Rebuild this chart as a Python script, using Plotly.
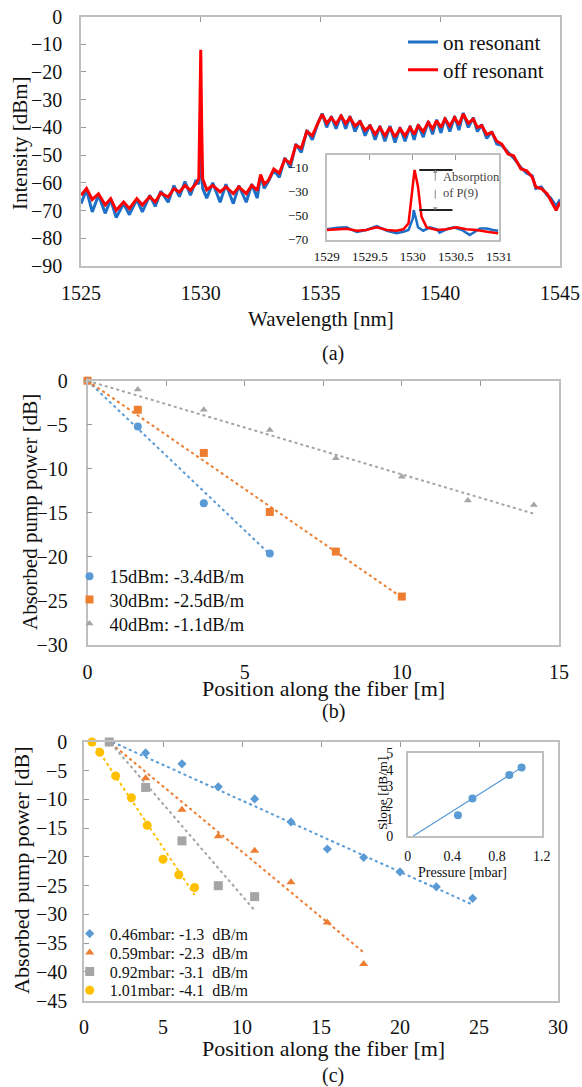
import plotly.graph_objects as go

W, H = 582, 1087
FONT = "Liberation Serif, Times New Roman, serif"
FRAME = "#BFBFBF"

# ---------------- data : panel (a) spectrum ----------------
wavelength = [
    1525.00, 1525.23, 1525.47, 1525.73, 1526.01, 1526.24, 1526.47, 1526.78, 1527.02, 1527.33,
    1527.56, 1527.87, 1528.10, 1528.33, 1528.64, 1528.88, 1529.11, 1529.34, 1529.57, 1529.80,
    1529.92, 1529.96, 1530.00, 1530.04, 1530.08, 1530.25, 1530.50, 1530.81, 1531.05, 1531.36,
    1531.59, 1531.90, 1532.13, 1532.36, 1532.50, 1532.65, 1532.82, 1533.05, 1533.28, 1533.51,
    1533.74, 1533.97, 1534.20, 1534.43, 1534.66, 1534.89, 1535.07, 1535.26, 1535.45, 1535.65,
    1535.86, 1536.05, 1536.23, 1536.44, 1536.65, 1536.86, 1537.07, 1537.28, 1537.48, 1537.69,
    1537.90, 1538.11, 1538.32, 1538.53, 1538.74, 1538.91, 1539.08, 1539.29, 1539.50, 1539.68,
    1539.85, 1540.03, 1540.20, 1540.40, 1540.60, 1540.78, 1540.96, 1541.17, 1541.38, 1541.55,
    1541.73, 1541.94, 1542.15, 1542.36, 1542.57, 1542.83, 1543.06, 1543.37, 1543.60, 1543.84,
    1543.99, 1544.22, 1544.46, 1544.61, 1544.84, 1545.00]
off_resonant = [
    -64.5, -62.0, -66.0, -64.0, -68.0, -65.7, -69.9, -66.9, -69.3, -65.7,
    -68.0, -65.0, -66.9, -63.7, -65.1, -62.1, -63.3, -60.9, -62.7, -60.3,
    -58.5, -40.0, -12.0, -40.0, -58.5, -62.5, -60.9, -63.3, -61.5, -63.9,
    -61.5, -63.9, -60.9, -62.7, -57.0, -60.5, -59.2, -55.0, -56.5, -51.5,
    -53.0, -46.5, -47.5, -41.5, -43.0, -38.5, -35.3, -38.5, -36.5, -38.8,
    -35.9, -38.6, -36.5, -39.5, -38.0, -41.0, -39.5, -42.5, -40.0, -43.0,
    -40.0, -43.5, -40.5, -43.0, -40.0, -42.5, -39.4, -41.5, -38.2, -40.5,
    -37.6, -40.0, -37.0, -39.5, -36.5, -39.0, -35.2, -38.5, -37.0, -40.0,
    -39.4, -42.5, -41.8, -45.0, -46.0, -49.6, -50.2, -55.0, -55.6, -57.9,
    -61.5, -62.1, -63.9, -66.3, -69.9, -67.0]
on_resonant = [
    -67.5, -62.5, -70.5, -64.5, -71.0, -66.0, -72.5, -67.5, -71.5, -66.0,
    -70.5, -64.5, -68.5, -63.0, -67.0, -61.0, -65.0, -59.5, -64.5, -59.0,
    -60.5, -55.0, -45.0, -55.0, -62.0, -65.5, -60.0, -67.0, -60.5, -67.5,
    -61.0, -67.0, -60.5, -65.5, -57.5, -62.0, -59.5, -55.5, -58.0, -51.0,
    -54.5, -46.0, -49.0, -41.0, -44.5, -38.5, -35.0, -40.0, -36.0, -40.5,
    -35.5, -40.5, -36.0, -41.5, -37.5, -43.0, -39.0, -44.5, -39.5, -45.0,
    -39.5, -45.5, -40.0, -45.0, -39.5, -44.5, -39.0, -43.5, -37.8, -42.5,
    -37.2, -42.0, -36.5, -41.5, -36.0, -41.0, -34.8, -40.0, -36.5, -41.5,
    -39.0, -44.0, -41.5, -46.0, -46.5, -49.0, -51.0, -54.5, -56.5, -57.5,
    -62.0, -61.5, -64.5, -65.5, -68.5, -66.0]

# inset of (a)
inset_wl_off = [1529.00, 1529.12, 1529.23, 1529.35, 1529.46, 1529.58, 1529.70, 1529.81, 1529.89,
                1529.95, 1529.97, 1529.99, 1530.02, 1530.06, 1530.10, 1530.16, 1530.28, 1530.39,
                1530.51, 1530.62, 1530.74, 1530.86, 1530.99]
inset_off = [-62.1, -61.5, -61.0, -62.7, -62.1, -59.9, -62.1, -62.7, -61.5,
             -56.5, -45.0, -31.6, -12.2, -26.1, -51.0, -59.9, -62.1, -61.5,
             -59.9, -61.5, -62.1, -63.5, -64.8]
inset_wl_on = [1529.00, 1529.12, 1529.23, 1529.35, 1529.46, 1529.58, 1529.70, 1529.81, 1529.89,
               1529.95, 1530.00, 1530.01, 1530.04, 1530.06, 1530.12, 1530.20, 1530.28, 1530.31,
               1530.39, 1530.47, 1530.57, 1530.66, 1530.78, 1530.86, 1530.93, 1530.99]
inset_on = [-61.5, -60.2, -59.9, -63.8, -62.1, -58.8, -62.7, -64.8, -63.5,
            -62.1, -52.4, -45.5, -53.8, -59.9, -62.7, -59.9, -61.5, -64.3,
            -61.5, -59.9, -62.1, -66.3, -60.9, -60.9, -62.1, -62.7]
absorption_bar_x = [1530.075, 1530.46]
absorption_arrow_x = 1530.26
absorption_text_pos = (1530.33, -25.0)

# ---------------- data : panel (b) ----------------
b_x15 = [0, 1.6, 3.7, 5.8]
b_y15 = [0, -5.2, -13.9, -19.6]
b_x30 = [0, 1.6, 3.7, 5.8, 7.9, 10.0]
b_y30 = [0, -3.3, -8.2, -14.9, -19.4, -24.5]
b_x40 = [0, 1.6, 3.7, 5.8, 7.9, 10.0, 12.1, 14.2]
b_y40 = [0, -1.0, -3.3, -5.6, -8.8, -10.9, -13.6, -14.1]
b_fit_x = [[0, 5.8], [0, 10.0], [0, 14.2]]
b_fit_y = [[0, -19.7], [0, -24.6], [0, -15.1]]
b_names = ["15dBm: -3.4dB/m", "30dBm: -2.5dB/m", "40dBm: -1.1dB/m"]

# ---------------- data : panel (c) ----------------
c_x046 = [1.6, 3.9, 6.2, 8.5, 10.8, 13.1, 15.4, 17.7, 20.0, 22.3, 24.6]
c_y046 = [0, -1.9, -3.8, -7.8, -9.9, -13.9, -18.6, -20.1, -22.6, -25.2, -27.2]
c_x059 = [1.6, 3.9, 6.2, 8.5, 10.8, 13.1, 15.4, 17.7]
c_y059 = [0, -6.3, -11.8, -16.4, -18.9, -24.4, -31.4, -38.6]
c_x092 = [1.6, 3.9, 6.2, 8.5, 10.8]
c_y092 = [0, -7.9, -17.2, -25.0, -26.9]
c_x101 = [0.5, 1.0, 2.0, 3.0, 4.0, 5.0, 6.0, 7.0]
c_y101 = [0, -1.8, -5.9, -9.7, -14.5, -20.4, -23.1, -25.3]
c_fit_x = [[1.8, 24.6], [1.7, 17.7], [1.7, 10.8], [0.6, 7.0]]
c_fit_y = [[0, -28.3], [-0.2, -36.6], [-0.2, -29.3], [-0.2, -26.6]]
c_names = ["0.46mbar: -1.3\u00a0 dB/m", "0.59mbar: -2.3\u00a0 dB/m",
           "0.92mbar: -3.1\u00a0 dB/m", "1.01mbar: -4.1\u00a0 dB/m"]
# inset of (c)
pressure = [0.45, 0.58, 0.91, 1.02]
slope = [1.25, 2.26, 3.67, 4.13]
slope_fit_x = [0.05, 1.03]
slope_fit_y = [0.0, 4.17]

# ---------------- styles ----------------
BLUE_A, RED_A = "#1E6FC8", "#FF0000"
C_BLUE, C_ORANGE, C_GRAY, C_YELLOW = "#5B9BD5", "#ED7D31", "#A5A5A5", "#FFC000"


def fx(p):
    return p / W


def fy(p):
    return 1 - p / H


fig = go.Figure()
legends = {}


def legend_box(name, left_px, top_px, size):
    legends[name] = dict(x=fx(left_px), y=fy(top_px), xanchor="left", yanchor="top",
                         bgcolor="rgba(0,0,0,0)", borderwidth=0, itemwidth=30, tracegroupgap=0,
                         font=dict(family=FONT, size=size, color="#111111"))


# panel (a)
legend_box("legend", 403.0, 21.8, 21)
legend_box("legend2", 403.0, 49.5, 21)
fig.add_trace(go.Scatter(x=wavelength, y=on_resonant, mode="lines", name="on resonant",
                         line=dict(color=BLUE_A, width=3), xaxis="x", yaxis="y", legend="legend"))
fig.add_trace(go.Scatter(x=wavelength, y=off_resonant, mode="lines", name="off resonant",
                         line=dict(color=RED_A, width=3), xaxis="x", yaxis="y", legend="legend2"))
fig.add_trace(go.Scatter(x=[], y=[], xaxis="x2", yaxis="y", showlegend=False))
# inset (a)
fig.add_trace(go.Scatter(x=inset_wl_on, y=inset_on, mode="lines", line=dict(color=BLUE_A, width=2.5),
                         xaxis="x3", yaxis="y3", showlegend=False))
fig.add_trace(go.Scatter(x=inset_wl_off, y=inset_off, mode="lines", line=dict(color=RED_A, width=2.5),
                         xaxis="x3", yaxis="y3", showlegend=False))
fig.add_trace(go.Scatter(x=[], y=[], xaxis="x4", yaxis="y3", showlegend=False))
top_level = max(inset_off)
bot_level = max(inset_on)
for lvl in (top_level, bot_level):
    fig.add_trace(go.Scatter(x=absorption_bar_x, y=[lvl, lvl], mode="lines",
                             line=dict(color="#222222", width=2), xaxis="x3", yaxis="y3",
                             showlegend=False))
fig.add_trace(go.Scatter(x=[absorption_arrow_x, absorption_arrow_x], y=[top_level - 1.5, bot_level + 1.5],
                         mode="lines+markers", line=dict(color="#8C8C8C", width=1, dash="dash"),
                         marker=dict(symbol=["triangle-up", "triangle-down"], size=4, color="#8C8C8C"),
                         xaxis="x3", yaxis="y3", showlegend=False))

# panel (b)
b_sets = [(b_x15, b_y15, C_BLUE, "circle", 8), (b_x30, b_y30, C_ORANGE, "square", 8),
          (b_x40, b_y40, C_GRAY, "triangle-up", 7)]
b_leg_tops = [557.7, 581.0, 605.0]
for (xs, ys, col, sym, sz), fxs, fys in zip(b_sets, b_fit_x, b_fit_y):
    fig.add_trace(go.Scatter(x=fxs, y=fys, mode="lines", line=dict(color=col, width=2, dash="dot"),
                             xaxis="x5", yaxis="y5", showlegend=False))
for i, ((xs, ys, col, sym, sz), nm) in enumerate(zip(b_sets, b_names)):
    lg = "legend%d" % (3 + i)
    legend_box(lg, 69.5, b_leg_tops[i], 18.5)
    fig.add_trace(go.Scatter(x=xs, y=ys, mode="markers", name=nm, cliponaxis=False,
                             marker=dict(color=col, symbol=sym, size=sz),
                             xaxis="x5", yaxis="y5", legend=lg))
fig.add_trace(go.Scatter(x=[], y=[], xaxis="x6", yaxis="y5", showlegend=False))

# panel (c)
c_sets = [(c_x046, c_y046, C_BLUE, "diamond", 7), (c_x059, c_y059, C_ORANGE, "triangle-up", 8),
          (c_x092, c_y092, C_GRAY, "square", 9), (c_x101, c_y101, C_YELLOW, "circle", 9)]
c_leg_tops = [916.7, 935.7, 954.7, 973.3]
for (xs, ys, col, sym, sz), fxs, fys in zip(c_sets, c_fit_x, c_fit_y):
    fig.add_trace(go.Scatter(x=fxs, y=fys, mode="lines", line=dict(color=col, width=2, dash="dot"),
                             xaxis="x7", yaxis="y7", showlegend=False))
for i, ((xs, ys, col, sym, sz), nm) in enumerate(zip(c_sets, c_names)):
    lg = "legend%d" % (6 + i)
    legend_box(lg, 69.7, c_leg_tops[i], 16)
    fig.add_trace(go.Scatter(x=xs, y=ys, mode="markers", name=nm, cliponaxis=False,
                             marker=dict(color=col, symbol=sym, size=sz),
                             xaxis="x7", yaxis="y7", legend=lg))
fig.add_trace(go.Scatter(x=[], y=[], xaxis="x8", yaxis="y7", showlegend=False))
# inset (c)
fig.add_trace(go.Scatter(x=slope_fit_x, y=slope_fit_y, mode="lines", line=dict(color=C_BLUE, width=1.2),
                         xaxis="x9", yaxis="y9", showlegend=False))
fig.add_trace(go.Scatter(x=pressure, y=slope, mode="markers", cliponaxis=False,
                         marker=dict(color=C_BLUE, size=8), xaxis="x9", yaxis="y9", showlegend=False))


def main_x(domain, anchor, rng, vals, size=20, standoff=8, text=None):
    d = dict(domain=domain, anchor=anchor, range=rng, tickvals=vals, ticks="", showgrid=False,
             zeroline=False, showline=True, mirror=True, linecolor=FRAME, linewidth=1.5,
             automargin=False,
             tickfont=dict(family=FONT, size=size, color="#111111"), ticklabelstandoff=standoff)
    if text is not None:
        d["ticktext"] = text
    return d


def top_x(over, anchor, rng, vals):
    return dict(overlaying=over, anchor=anchor, side="top", range=rng, tickvals=vals, ticks="inside",
                ticklen=5, tickwidth=1.3, tickcolor="#999999", showticklabels=False, showgrid=False,
                zeroline=False, showline=False, automargin=False)


def main_y(domain, anchor, rng, vals, size=20, standoff=14, ticks="inside"):
    return dict(domain=domain, anchor=anchor, range=rng, tickvals=vals, ticks=ticks, ticklen=5,
                tickwidth=1.3, tickcolor="#999999", showgrid=False, zeroline=False, showline=True,
                mirror=True, linecolor=FRAME, linewidth=1.5, automargin=False,
                tickfont=dict(family=FONT, size=size, color="#111111"), ticklabelstandoff=standoff)


fig.update_layout(
    width=W, height=H, margin=dict(l=0, r=0, t=0, b=0, autoexpand=False),
    paper_bgcolor="white", plot_bgcolor="white",
    font=dict(family=FONT, color="#111111"),
    xaxis=main_x([fx(81), fx(560)], "y", [1525, 1545], [1525, 1530, 1535, 1540, 1545], 20, 8),
    xaxis2=top_x("x", "y", [1525, 1545], [1530, 1535, 1540]),
    yaxis=main_y([fy(266), fy(16.5)], "x", [-90, 0], list(range(-90, 1, 10)), 20, 13),
    xaxis3=main_x([fx(326.7), fx(499)], "y3", [1529, 1531], [1529, 1529.5, 1530, 1530.5, 1531], 13, 4,
                  ["1529", "1529.5", "1530", "1530.5", "1531"]),
    xaxis4=top_x("x3", "y3", [1529, 1531], [1529.5, 1530, 1530.5]),
    yaxis3=main_y([fy(239.5), fy(155.3)], "x3", [-70, 0], [-70, -50, -30, -10], 13, 14, ticks=""),
    xaxis5=main_x([fx(87.5), fx(559)], "y5", [0, 15], [0, 5, 10, 15], 20, 8),
    xaxis6=top_x("x5", "y5", [0, 15], [2.5, 5, 7.5, 10, 12.5]),
    yaxis5=main_y([fy(645), fy(380.7)], "x5", [-30, 0], list(range(-30, 1, 5)), 20, 14),
    xaxis7=main_x([fx(84), fx(558)], "y7", [0, 30], list(range(0, 31, 5)), 20, 8),
    xaxis8=top_x("x7", "y7", [0, 30], [5, 10, 15, 20, 25]),
    yaxis7=main_y([fy(1000.7), fy(742)], "x7", [-45, 0], list(range(-45, 1, 5)), 20, 11),
    xaxis9=main_x([fx(407.7), fx(541.7)], "y9", [0, 1.2], [0, 0.4, 0.8, 1.2], 14, 6,
                  ["0", "0.4", "0.8", "1.2"]),
    yaxis9=main_y([fy(836), fy(753)], "x9", [0, 5], [0, 1, 2, 3, 4, 5], 14, 10, ticks=""),
    showlegend=True,
    **legends,
)

ann = [
    dict(text="Wavelength [nm]", x=fx(320.5), y=fy(319), size=21, angle=0),
    dict(text="Intensity [dBm]", x=fx(20), y=fy(143), size=21, angle=-90),
    dict(text="(a)", x=fx(333), y=fy(353), size=20, angle=0),
    dict(text="Absorbed pump power [dB]", x=fx(30), y=fy(512), size=21, angle=-90),
    dict(text="Position along the fiber [m]", x=fx(323), y=fy(688), size=22, angle=0),
    dict(text="(b)", x=fx(333), y=fy(711), size=20, angle=0),
    dict(text="Absorbed pump power [dB]", x=fx(21), y=fy(871), size=22, angle=-90),
    dict(text="Position along the fiber [m]", x=fx(323), y=fy(1048), size=22, angle=0),
    dict(text="(c)", x=fx(333), y=fy(1075), size=20, angle=0),
    dict(text="Slope [dB/m]", x=fx(382), y=fy(794), size=13.5, angle=-90),
    dict(text="Pressure [mbar]", x=fx(463), y=fy(872), size=14, angle=0),
]
for a in ann:
    fig.add_annotation(text=a["text"], x=a["x"], y=a["y"], xref="paper", yref="paper",
                       showarrow=False, textangle=a["angle"], xanchor="center", yanchor="middle",
                       font=dict(family=FONT, size=a["size"], color="#111111"))
fig.add_annotation(text="Absorption<br>of P(9)", x=absorption_text_pos[0], y=absorption_text_pos[1],
                   xref="x3", yref="y3", showarrow=False, xanchor="left", yanchor="middle", align="left",
                   font=dict(family=FONT, size=12.5, color="#444444"))

fig.write_html("out.html", config={"displayModeBar": False},
               post_script="document.body.style.margin='0';")
